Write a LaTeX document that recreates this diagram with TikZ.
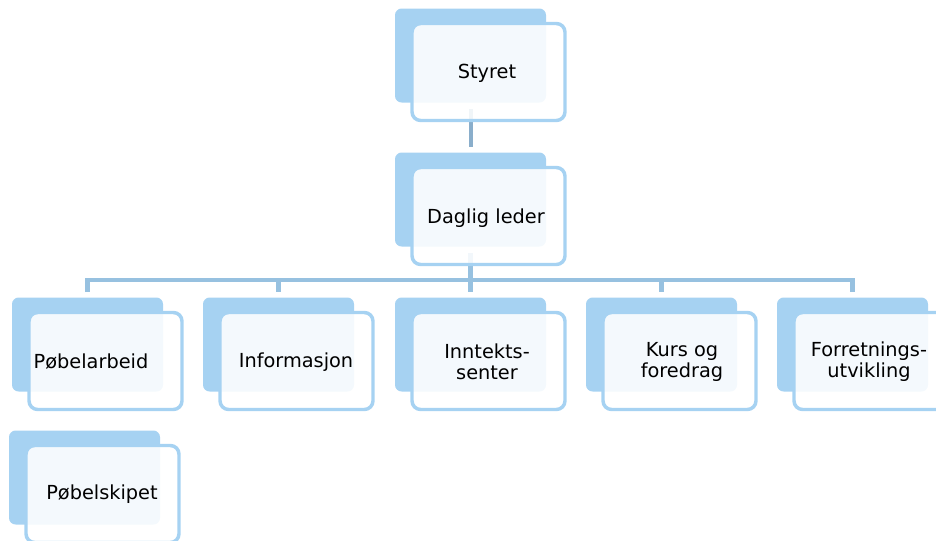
\documentclass[tikz,border=0pt]{standalone}
\usepackage{fontspec}
\setmainfont{DejaVu Sans}
\pgfdeclarelayer{bg}
\pgfsetlayers{bg,main}
\definecolor{boxblue}{HTML}{A6D2F2}
\definecolor{topline}{HTML}{8AAECB}
\definecolor{busline}{HTML}{97C1E0}
\tikzset{
  backbox/.style={rectangle, rounded corners=5pt, fill=boxblue, draw=none,
    minimum width=113.25pt, minimum height=70.5pt, inner sep=0pt},
  frontbox/.style={rectangle, rounded corners=6.5pt, draw=boxblue, line width=2.6pt,
    fill=white, fill opacity=0.88, draw opacity=1,
    minimum width=114.75pt, minimum height=72.75pt, inner sep=0pt},
  lbl/.style={font=\fontsize{14.5}{15.75}\selectfont, align=center, inner sep=0pt, text=black},
  topconn/.style={draw=topline, line width=3pt},
  busconn/.style={draw=busline, line width=3.3pt}
}
\begin{document}
\begin{tikzpicture}[x=0.75pt,y=-0.75pt]
\useasboundingbox (0,0) rectangle (936,540);
% top units
\node[backbox] (sB) at (470.5,55.5) {};
\node[frontbox] (sF) at (488.5,72) {};
\node[lbl] (sT) at (487,73) {Styret};
\node[backbox] (dB) at (470.5,199.5) {};
\node[frontbox] (dF) at (488.5,216) {};
\node[lbl] (dT) at (486,218) {Daglig leder};
% lower row
\node[backbox] (pB) at (87.5,344.5) {};
\node[frontbox] (pF) at (105.5,361) {};
\node[lbl] (pT) at (91,362) {Pøbelarbeid};
\node[backbox] (iB) at (278.5,344.5) {};
\node[frontbox] (iF) at (296.5,361) {};
\node[lbl] (iT) at (296,362) {Informasjon};
\node[backbox] (nB) at (470.5,344.5) {};
\node[frontbox] (nF) at (488.5,361) {};
\node[lbl] (nT) at (487,362) {Inntekts-\\senter};
\node[backbox] (kB) at (661.5,344.5) {};
\node[frontbox] (kF) at (679.5,361) {};
\node[lbl] (kT) at (682,362) {Kurs og\\foredrag};
\node[backbox] (fB) at (852.5,344.5) {};
\node[frontbox] (fF) at (870.5,361) {};
\node[lbl] (fT) at (869,362) {Forretnings-\\utvikling};
\node[backbox] (bB) at (84.5,477.5) {};
\node[frontbox] (bF) at (102.5,494) {};
\node[lbl] (bT) at (102,494) {Pøbelskipet};
% connectors
\coordinate (busy) at (0,280);
\begin{pgfonlayer}{bg}
\draw[topconn] ([yshift=-4.5pt]sB.south) -- ([yshift=3.75pt]dB.north);
\draw[busconn] ([yshift=-4.5pt]dB.south) -- ([yshift=3.75pt]nB.north);
\draw[busconn] ([yshift=3.75pt]pB.north) -- (pB.north |- busy) -- (fB.north |- busy) -- ([yshift=3.75pt]fB.north);
\draw[busconn] (iB.north |- busy) -- ([yshift=3.75pt]iB.north);
\draw[busconn] (kB.north |- busy) -- ([yshift=3.75pt]kB.north);
\end{pgfonlayer}
\end{tikzpicture}
\end{document}
